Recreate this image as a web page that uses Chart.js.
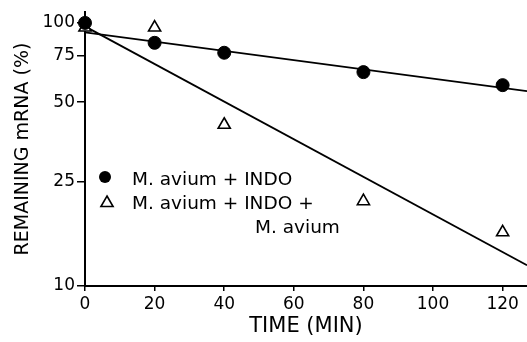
<!DOCTYPE html>
<html>
<head>
<meta charset="utf-8">
<script src="https://cdn.jsdelivr.net/npm/chart.js@4/dist/chart.umd.min.js"></script>
<style>
  html, body { margin: 0; padding: 0; background: #fff; }
  #wrap { width: 527px; height: 342px; position: relative; }
</style>
</head>
<body>
<div id="wrap"><canvas id="mrna-chart"></canvas></div>
<script>
const times = [0, 20, 40, 80, 120];
const indo = [100, 84, 77, 65, 58];
const indoAvium = [96, 96, 41, 21, 16];

// fitted lines (end points)
const fitTimes = [0, 127];
const indoFit = [92, 55];
const indoAviumFit = [97, 12];

const xTicks = [0, 20, 40, 60, 80, 100, 120];
const yTicks = [10, 25, 50, 75, 100];

const legendLabels = [
  ["M. avium + INDO"],
  ["M. avium + INDO +", "M. avium"],
];

const FONT = "'DejaVu Sans', 'Liberation Sans', sans-serif";
Chart.defaults.font.family = FONT;
Chart.defaults.color = "#000";

const toPoints = (xs, ys) => xs.map((x, i) => ({ x: x, y: ys[i] }));

// legend drawn inside the plot, like the original figure
const insideLegend = {
  id: "insideLegend",
  afterDraw(chart) {
    const ctx = chart.ctx;
    const left = chart.chartArea.left;
    ctx.save();
    ctx.font = "18.5px " + FONT;
    ctx.textBaseline = "alphabetic";

    ctx.fillStyle = "#000";
    ctx.beginPath();
    ctx.arc(left + 20, 177, 6, 0, Math.PI * 2);
    ctx.fill();
    ctx.fillText(legendLabels[0][0], left + 47, 185);

    ctx.fillStyle = "#fff";
    ctx.strokeStyle = "#000";
    ctx.lineWidth = 1.6;
    Chart.helpers.drawPoint(ctx, { pointStyle: "triangle", radius: 7, borderWidth: 1.6 }, left + 22, 203);
    ctx.fillStyle = "#000";
    ctx.fillText(legendLabels[1][0], left + 47, 209);
    ctx.fillText(legendLabels[1][1], left + 170, 233);
    ctx.restore();
  },
};

new Chart(document.getElementById("mrna-chart"), {
  type: "scatter",
  data: {
    datasets: [
      {
        label: "M. avium + INDO",
        data: toPoints(times, indo),
        pointStyle: "circle",
        pointRadius: 6.5,
        backgroundColor: "#000",
        borderColor: "#000",
        clip: false,
        order: 1,
      },
      {
        label: "M. avium + INDO + M. avium",
        data: toPoints(times, indoAvium),
        pointStyle: "triangle",
        pointRadius: 7,
        backgroundColor: "#fff",
        borderColor: "#000",
        borderWidth: 1.6,
        clip: false,
        order: 2,
      },
      {
        type: "line",
        data: toPoints(fitTimes, indoFit),
        borderColor: "#000",
        borderWidth: 1.8,
        pointRadius: 0,
        clip: false,
        order: 3,
      },
      {
        type: "line",
        data: toPoints(fitTimes, indoAviumFit),
        borderColor: "#000",
        borderWidth: 1.8,
        pointRadius: 0,
        clip: false,
        order: 3,
      },
    ],
  },
  options: {
    responsive: true,
    maintainAspectRatio: false,
    animation: false,
    layout: { autoPadding: false, padding: { top: 12, right: 0, bottom: 0, left: 0 } },
    plugins: {
      legend: { display: false },
      tooltip: { enabled: false },
    },
    scales: {
      x: {
        type: "linear",
        min: 0,
        max: 127,
        afterBuildTicks: (scale) => {
          scale.ticks = xTicks.map((v) => ({ value: v }));
        },
        afterFit: (scale) => {
          scale.height = 56;
          scale.paddingLeft = 0;
          scale.paddingRight = 0;
        },
        ticks: { font: { size: 17 }, padding: 3, maxRotation: 0, callback: (v) => v },
        grid: { display: true, drawOnChartArea: false, drawTicks: true, tickLength: 5, color: "#000", lineWidth: 1.5 },
        border: { display: true, color: "#000", width: 2 },
        title: {
          display: true,
          text: "TIME (MIN)",
          font: { size: 21 },
          padding: { top: 0, bottom: 3 },
        },
      },
      y: {
        type: "logarithmic",
        min: 10,
        max: 110,
        afterBuildTicks: (scale) => {
          scale.ticks = yTicks.map((v) => ({ value: v }));
        },
        afterFit: (scale) => {
          scale.width = 85;
          scale.paddingTop = 0;
          scale.paddingBottom = 0;
        },
        ticks: { font: { size: 17 }, padding: 2, callback: (v) => v },
        grid: { display: true, drawOnChartArea: false, drawTicks: true, tickLength: 8, color: "#000", lineWidth: 1.5 },
        border: { display: true, color: "#000", width: 2 },
        title: {
          display: true,
          text: "REMAINING mRNA (%)",
          font: { size: 19 },
          padding: { top: 12, bottom: 0 },
        },
      },
    },
  },
  plugins: [insideLegend],
});
</script>
</body>
</html>
